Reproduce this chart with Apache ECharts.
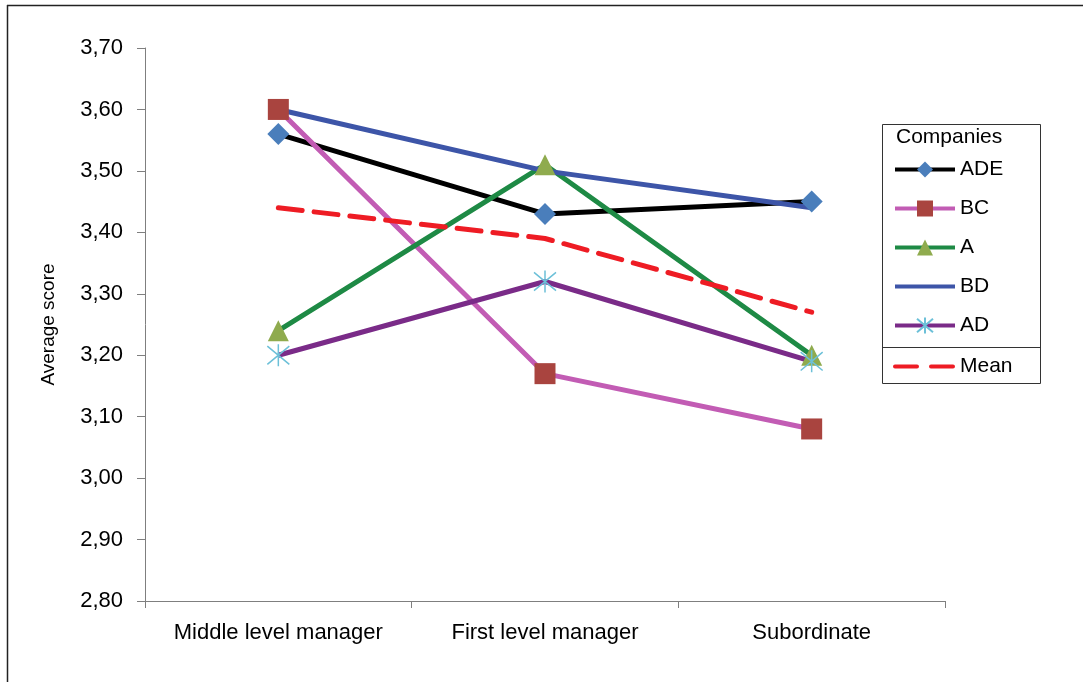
<!DOCTYPE html>
<html>
<head>
    <meta charset="utf-8"/>
    <title>Average score by level</title>
    <script src="https://cdn.jsdelivr.net/npm/echarts@6/dist/echarts.min.js"></script>
    <style>
        html, body { margin: 0; padding: 0; background: #fff; }
        #main { width: 1083px; height: 682px; }
    </style>
</head>
<body>
<div id="main"></div>
<script type="text/javascript">
    // categories and values
    var levels = ['Middle level manager', 'First level manager', 'Subordinate'];
    var yTicks = ['2,80', '2,90', '3,00', '3,10', '3,20', '3,30', '3,40', '3,50', '3,60', '3,70'];
    var ade = [3.56, 3.43, 3.45];
    var bc = [3.60, 3.17, 3.08];
    var a = [3.24, 3.51, 3.20];
    var bd = [3.60, 3.50, 3.44];
    var ad = [3.20, 3.32, 3.19];
    var mean = [3.44, 3.39, 3.27];

    var chart = echarts.init(document.getElementById('main'));

    // asterisk marker (X plus vertical bar), stroked only
    var asterisk = 'path://M0,0 L10,10 M10,0 L0,10 M5,-1 L5,11';

    function company(name, data, lineColor, symbol, symbolSize, markColor) {
        return {
            name: name,
            type: 'line',
            data: data,
            symbol: symbol,
            symbolSize: symbolSize,
            showAllSymbol: true,
            lineStyle: { color: lineColor, width: 5 },
            itemStyle: { color: markColor, borderWidth: 0 },
            emphasis: { disabled: true },
            animation: false
        };
    }

    var series = [
        company('ADE', ade, '#000000', 'diamond', 22, '#4a7ebb'),
        company('BC', bc, '#c25cb4', 'rect', 21, '#a9443f'),
        company('A', a, '#1e8a45', 'triangle', 21, '#8fab4e'),
        company('BD', bd, '#3d55a8', 'none', 0, '#3d55a8'),
        {
            name: 'AD',
            type: 'line',
            data: ad,
            symbol: asterisk,
            symbolSize: 22,
            lineStyle: { color: '#7a2b88', width: 5 },
            itemStyle: { color: 'rgba(0,0,0,0)', borderColor: '#6cc0d8', borderWidth: 1.5 },
            emphasis: { disabled: true },
            animation: false
        },
        {
            name: 'Mean',
            type: 'line',
            data: mean,
            symbol: 'none',
            lineStyle: { color: '#ee1c24', width: 5, type: [24, 12], cap: 'round' },
            itemStyle: { color: '#ee1c24' },
            emphasis: { disabled: true },
            animation: false
        }
    ];

    var legendText = { fontFamily: 'Liberation Sans', fontSize: 21, lineHeight: 20, color: '#000' };

    var option = {
        backgroundColor: '#fff',
        animation: false,
        textStyle: { fontFamily: 'Liberation Sans' },
        grid: { left: 145, top: 48, right: 138, bottom: 81, containLabel: false },
        legend: [
            {
                data: ['ADE', 'BC', 'A', { name: 'BD', itemStyle: { opacity: 0 } }, 'AD'],
                orient: 'vertical',
                left: 888,
                top: 154,
                itemWidth: 60,
                itemHeight: 20,
                itemGap: 18,
                selectedMode: false,
                lineStyle: { width: 4 },
                textStyle: legendText
            },
            {
                data: [{ name: 'Mean', itemStyle: { opacity: 0 }, lineStyle: { width: 4, type: [22, 14] } }],
                orient: 'vertical',
                left: 888,
                top: 351,
                itemWidth: 60,
                itemHeight: 20,
                selectedMode: false,
                textStyle: legendText
            }
        ],
        xAxis: {
            type: 'category',
            data: levels,
            boundaryGap: true,
            axisLine: { lineStyle: { color: '#7f7f7f', width: 1 } },
            axisTick: { show: true, interval: 0, length: 7, inside: false, alignWithLabel: false, lineStyle: { color: '#7f7f7f' } },
            axisLabel: { color: '#000', interval: 0, fontSize: 22, margin: 21, fontFamily: 'Liberation Sans' },
            splitLine: { show: false }
        },
        yAxis: {
            type: 'value',
            min: 2.8,
            max: 3.7,
            interval: 0.1,
            name: 'Average score',
            nameLocation: 'middle',
            nameGap: 87,
            nameRotate: 90,
            nameTextStyle: { color: '#000', fontSize: 19, fontFamily: 'Liberation Sans' },
            axisLine: { show: true, lineStyle: { color: '#7f7f7f', width: 1 } },
            axisTick: { show: true, length: 8, lineStyle: { color: '#7f7f7f' } },
            axisLabel: {
                color: '#000',
                fontSize: 22,
                margin: 22,
                fontFamily: 'Liberation Sans',
                formatter: function (v) {
                    var i = Math.round((v - 2.8) * 10);
                    return yTicks[i];
                }
            },
            splitLine: { show: false }
        },
        graphic: [
            // outer frame: top and left edges only
            { type: 'line', shape: { x1: 7, y1: 5.5, x2: 1083, y2: 5.5 }, style: { stroke: '#222', lineWidth: 1.5 }, silent: true },
            { type: 'line', shape: { x1: 7.5, y1: 5, x2: 7.5, y2: 682 }, style: { stroke: '#222', lineWidth: 1.5 }, silent: true },
            // legend box with separator
            { type: 'rect', shape: { x: 882.5, y: 124.5, width: 158, height: 259 }, style: { fill: 'none', stroke: '#333', lineWidth: 1 }, silent: true },
            { type: 'line', shape: { x1: 882.5, y1: 347.5, x2: 1040.5, y2: 347.5 }, style: { stroke: '#333', lineWidth: 1 }, silent: true },
            { type: 'text', left: 896, top: 127, style: { text: 'Companies', fontFamily: 'Liberation Sans', fontSize: 21, fill: '#000' }, silent: true }
        ],
        series: series
    };

    chart.setOption(option);
</script>
</body>
</html>
